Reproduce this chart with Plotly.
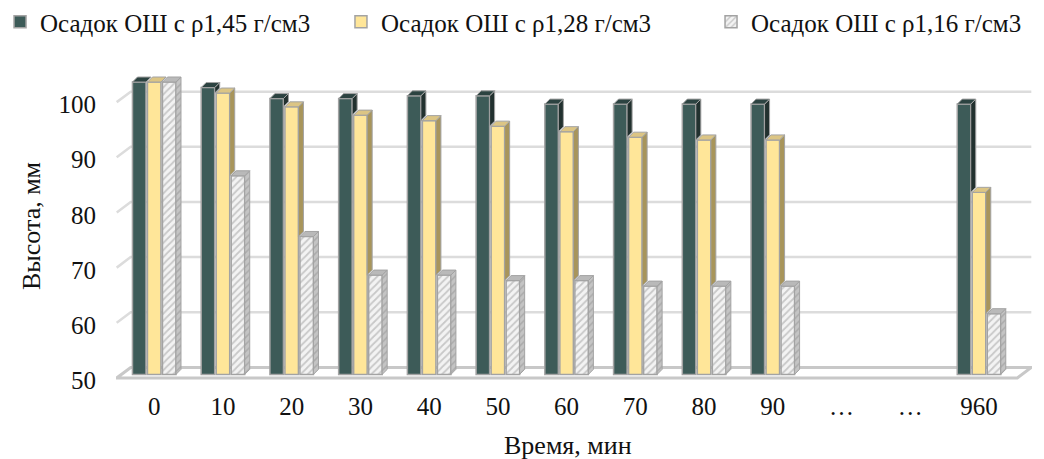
import numpy as np
import plotly.graph_objects as go

# ---- data -------------------------------------------------------------
tick_labels = ["0", "10", "20", "30", "40", "50", "60", "70", "80", "90", "…", "…", "960"]
series_names = ["Осадок ОШ с ρ1,45 г/см3", "Осадок ОШ с ρ1,28 г/см3", "Осадок ОШ с ρ1,16 г/см3"]
height_145 = [103, 102, 100, 100, 100.5, 100.5, 99, 99, 99, 99, None, None, 99]
height_128 = [103, 101, 98.5, 97, 96, 95, 94, 93, 92.5, 92.5, None, None, 83]
height_116 = [103, 86, 75, 68, 68, 67, 67, 66, 66, 66, None, None, 61]
y_ticks = [50, 60, 70, 80, 90, 100]
x_title = "Время, мин"
y_title = "Высота, мм"

# ---- styling ----------------------------------------------------------
FONT = "Liberation Serif"
BASE = 50                      # floor level of the bars
BARGAP, GROUPGAP = 0.345, 0.10
X_RANGE = [-0.556, 12.771]
Y_RANGE = [48.8, 105.0]
# oblique depth of a single bar (category units / value units)
BAR_DX, BAR_DY = 0.073, 0.91
# depth of the floor / back wall
FRONT_DY, BACK_DY = -0.65, 1.26
WALL_DX = 0.204

styles = [
    dict(front="#3d5b58", side="#22312f", top="#2c4341", pattern=None),
    dict(front="#ffe699", side="#a8955b", top="#dcc584", pattern=None),
    dict(front="#efefef", side="#c4c4c4", top="#b9b9b9",
         pattern=dict(shape="/", size=5, solidity=0.35, fgcolor="#9d9d9d", bgcolor="#f3f3f3")),
]
OUTLINE = "#a3a3a3"
# each series gets its own one-item legend so the entries can be spaced freely
legend_ids = ["legend", "legend2", "legend3"]
legend_x = [-0.1266, 0.2456, 0.6496]

series = [height_145, height_128, height_116]
positions = np.arange(len(tick_labels), dtype=float)
n_series = len(series)
slot = (1 - BARGAP) / n_series
bar_w = slot * (1 - GROUPGAP)

fig = go.Figure()

# front faces of the bars
for k, (vals, name, st) in enumerate(zip(series, series_names, styles)):
    lengths = [None if v is None else v - BASE for v in vals]
    marker = dict(color=st["front"], line=dict(color=OUTLINE, width=1.5))
    if st["pattern"]:
        marker["pattern"] = st["pattern"]
    fig.add_trace(go.Bar(
        x=positions, y=lengths, base=BASE, name=name, marker=marker,
        legend=legend_ids[k],
        customdata=vals, hovertemplate="%{customdata}<extra>" + name + "</extra>",
    ))

# side and top faces give each bar its depth
for k, (vals, st) in enumerate(zip(series, styles)):
    nxt = series[k + 1] if k + 1 < n_series else None
    side_x, side_y, top_x, top_y = [], [], [], []
    for i, v in zip(positions, vals):
        if v is None:
            continue
        centre = i + (k - (n_series - 1) / 2) * slot
        xl, xr = centre - bar_w / 2, centre + bar_w / 2
        # part of the side hidden behind the neighbouring bar's front face
        low = BASE
        if nxt is not None and nxt[int(i)] is not None:
            low = max(BASE, nxt[int(i)])
        if low < v:
            side_x += [xr, xr, xr + BAR_DX, xr + BAR_DX, xr, None]
            side_y += [low, v, v + BAR_DY, low + BAR_DY, low, None]
        top_x += [xl, xr, xr + BAR_DX, xl + BAR_DX, xl, None]
        top_y += [v, v, v + BAR_DY, v + BAR_DY, v, None]
    extra = {}
    if st["pattern"]:
        extra["fillpattern"] = dict(shape="/", size=5, solidity=0.3,
                                    fgcolor="#8f8f8f", bgcolor=st["side"])
    fig.add_trace(go.Scatter(x=side_x, y=side_y, mode="lines", fill="toself",
                             fillcolor=st["side"], line=dict(color=OUTLINE, width=1),
                             showlegend=False, hoverinfo="skip", **extra))
    fig.add_trace(go.Scatter(x=top_x, y=top_y, mode="lines", fill="toself",
                             fillcolor=st["top"], line=dict(color=OUTLINE, width=1),
                             showlegend=False, hoverinfo="skip"))

# floor and back-wall gridlines
x_front_l, x_front_r = X_RANGE[0] + 0.01, X_RANGE[1] - WALL_DX - 0.01
shapes = [dict(
    type="path", layer="below", xref="x", yref="y",
    path=(f"M{x_front_l},{BASE + FRONT_DY} L{x_front_r},{BASE + FRONT_DY} "
          f"L{x_front_r + WALL_DX},{BASE + BACK_DY} L{x_front_l + WALL_DX},{BASE + BACK_DY} Z"),
    fillcolor="white", line=dict(color="#c8c8c8", width=3),
)]
for t in y_ticks[1:]:
    shapes.append(dict(
        type="path", layer="below", xref="x", yref="y",
        path=(f"M{x_front_l},{t + FRONT_DY} L{x_front_l + WALL_DX},{t + BACK_DY} "
              f"L{X_RANGE[1] - 0.01},{t + BACK_DY}"),
        line=dict(color="#dcdcdc", width=2.5),
    ))

legend_common = dict(orientation="h", xanchor="left", y=1.158, yanchor="middle",
                     font=dict(family=FONT, size=25, color="#111111"),
                     itemwidth=30, bgcolor="rgba(0,0,0,0)")

fig.update_layout(
    width=1044, height=459, autosize=False,
    margin=dict(l=116, r=12, t=71, b=78, autoexpand=False),
    paper_bgcolor="white", plot_bgcolor="white",
    font=dict(family=FONT, size=22, color="#111111"),
    barmode="group", bargap=BARGAP, bargroupgap=GROUPGAP,
    shapes=shapes,
    legend=dict(x=legend_x[0], **legend_common),
    legend2=dict(x=legend_x[1], **legend_common),
    legend3=dict(x=legend_x[2], **legend_common),
    showlegend=True,
    # x-axis title placed low in the bottom margin
    annotations=[dict(text=x_title, xref="paper", yref="paper", x=0.493, y=-0.207,
                      xanchor="center", yanchor="middle", showarrow=False,
                      font=dict(family=FONT, size=26, color="#111111"))],
)
fig.update_xaxes(
    range=X_RANGE, tickmode="array", tickvals=positions, ticktext=tick_labels,
    showgrid=False, zeroline=False, showline=False, ticks="",
    tickfont=dict(family=FONT, size=25), ticklabelstandoff=8,
)
fig.update_yaxes(
    range=Y_RANGE, tickmode="array", tickvals=y_ticks,
    showgrid=False, zeroline=False, showline=False, ticks="",
    tickfont=dict(family=FONT, size=25), ticklabelstandoff=19, ticklabelshift=6,
    title=dict(text=y_title, font=dict(family=FONT, size=26), standoff=10),
)

fig.write_html("out.html")
